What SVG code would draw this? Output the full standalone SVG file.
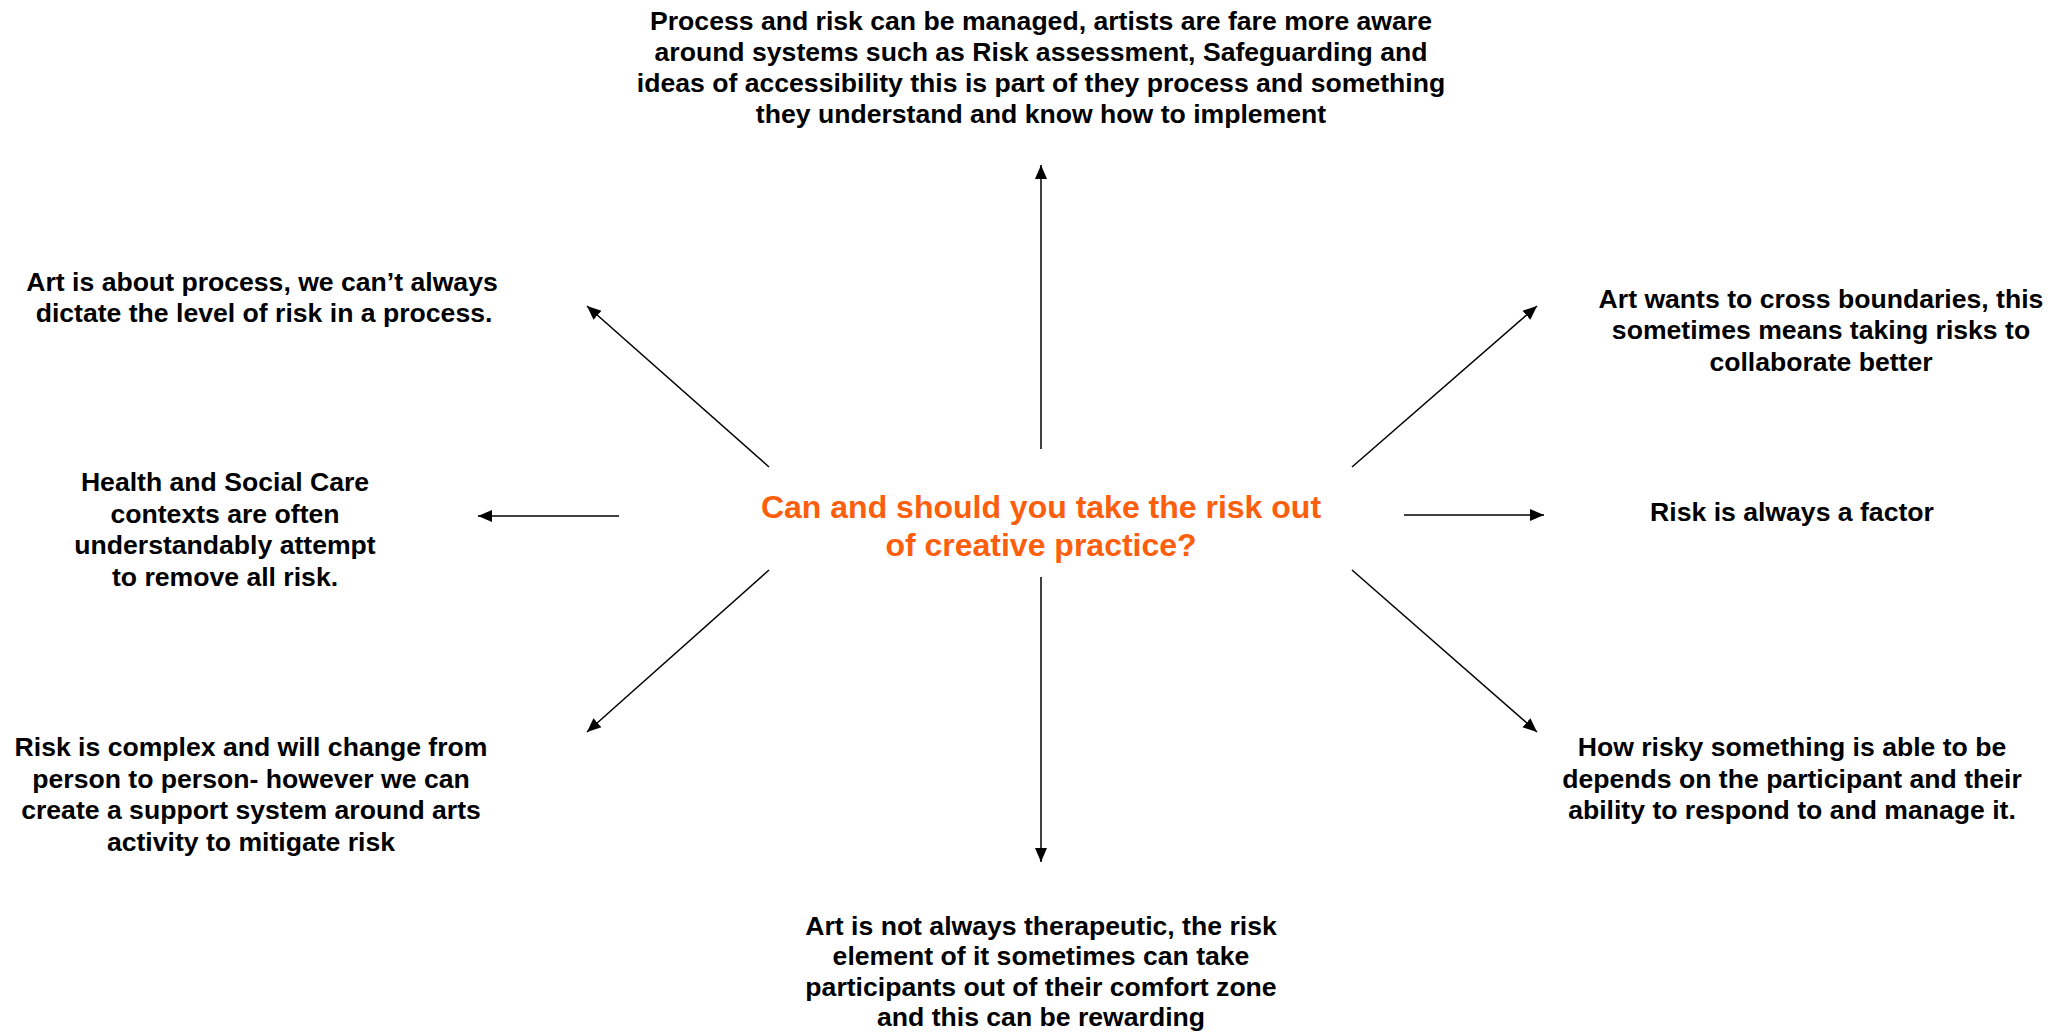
<svg xmlns="http://www.w3.org/2000/svg" width="2069" height="1034" viewBox="0 0 2069 1034">
<style>
.t{font-family:"Liberation Sans",Arial,sans-serif;font-weight:bold;font-size:26.6px;fill:#000;text-anchor:middle}
.c{font-family:"Liberation Sans",Arial,sans-serif;font-weight:bold;font-size:32px;fill:#FC5E0C;text-anchor:middle}
.a{stroke:#000;stroke-width:1.5;fill:none;marker-end:url(#ah)}
</style>
<defs>
<marker id="ah" markerUnits="userSpaceOnUse" markerWidth="16" markerHeight="14" refX="14" refY="7" orient="auto">
<path d="M0,1 L14,7 L0,13 z" fill="#000"/>
</marker>
</defs>
<rect width="2069" height="1034" fill="#fff"/>
<g id="connectors">
<line class="a" x1="1041" y1="449" x2="1041" y2="165"/>
<line class="a" x1="1041" y1="577" x2="1041" y2="862"/>
<line class="a" x1="619" y1="516" x2="478" y2="516"/>
<line class="a" x1="1404" y1="515" x2="1544" y2="515"/>
<line class="a" x1="769" y1="467" x2="587" y2="306"/>
<line class="a" x1="769" y1="570" x2="587" y2="732"/>
<line class="a" x1="1352" y1="467" x2="1537" y2="306"/>
<line class="a" x1="1352" y1="570" x2="1537" y2="732"/>
</g>
<g id="center">
<text class="c" x="1041" y="518">Can and should you take the risk out</text>
<text class="c" x="1041" y="556">of creative practice?</text>
</g>
<g id="top">
<text class="t" x="1041" y="30">Process and risk can be managed, artists are fare more aware</text>
<text class="t" x="1041" y="61">around systems such as Risk assessment, Safeguarding and</text>
<text class="t" x="1041" y="92">ideas of accessibility this is part of they process and something</text>
<text class="t" x="1041" y="123">they understand and know how to implement</text>
</g>
<g id="upper-left">
<text class="t" x="262" y="291">Art is about process, we can’t always</text>
<text class="t" x="264" y="322">dictate the level of risk in a process.</text>
</g>
<g id="left">
<text class="t" x="225" y="491">Health and Social Care</text>
<text class="t" x="225" y="523">contexts are often</text>
<text class="t" x="225" y="554">understandably attempt</text>
<text class="t" x="225" y="586">to remove all risk.</text>
</g>
<g id="lower-left">
<text class="t" x="251" y="756">Risk is complex and will change from</text>
<text class="t" x="251" y="788">person to person- however we can</text>
<text class="t" x="251" y="819">create a support system around arts</text>
<text class="t" x="251" y="851">activity to mitigate risk</text>
</g>
<g id="upper-right">
<text class="t" x="1821" y="308">Art wants to cross boundaries, this</text>
<text class="t" x="1821" y="339">sometimes means taking risks to</text>
<text class="t" x="1821" y="371">collaborate better</text>
</g>
<g id="right">
<text class="t" x="1792" y="521">Risk is always a factor</text>
</g>
<g id="lower-right">
<text class="t" x="1792" y="756">How risky something is able to be</text>
<text class="t" x="1792" y="788">depends on the participant and their</text>
<text class="t" x="1792" y="819">ability to respond to and manage it.</text>
</g>
<g id="bottom">
<text class="t" x="1041" y="935">Art is not always therapeutic, the risk</text>
<text class="t" x="1041" y="965">element of it sometimes can take</text>
<text class="t" x="1041" y="996">participants out of their comfort zone</text>
<text class="t" x="1041" y="1026">and this can be rewarding</text>
</g>
</svg>
